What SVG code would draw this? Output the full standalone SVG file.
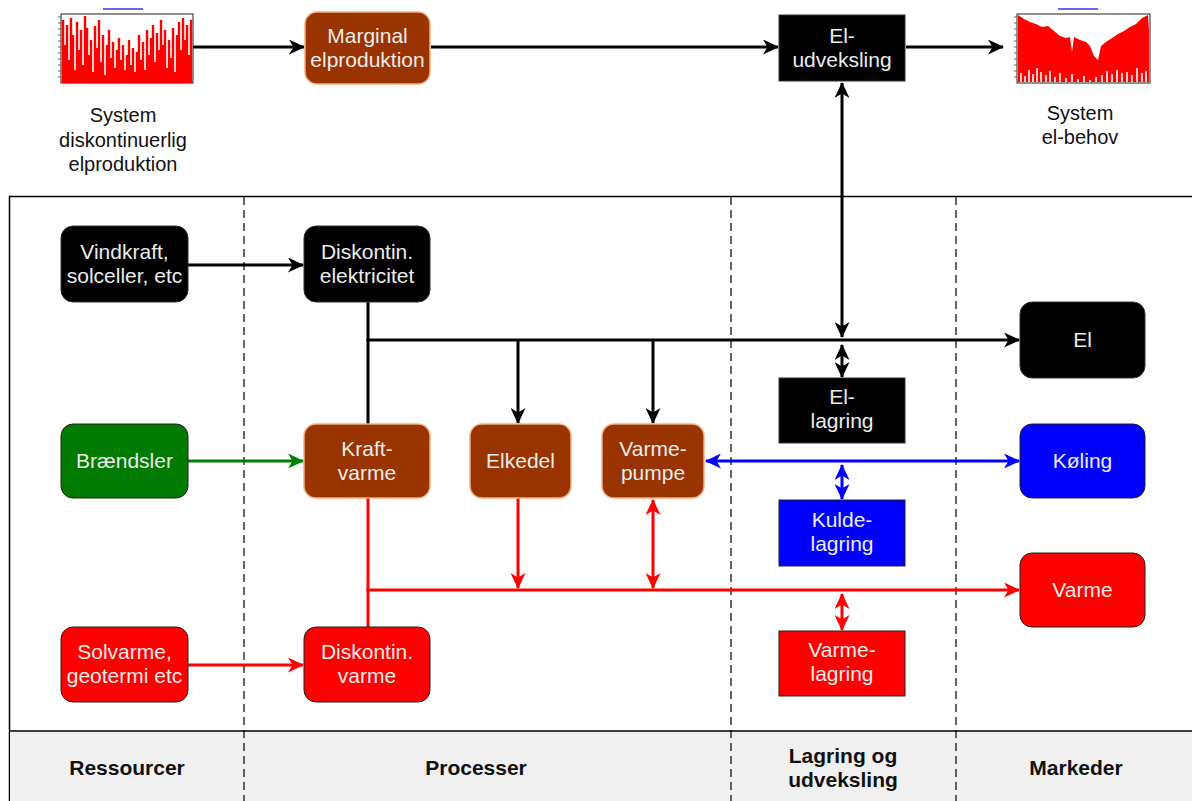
<svg xmlns="http://www.w3.org/2000/svg" width="1192" height="801" viewBox="0 0 1192 801">
<defs>
<style>
.t{font-family:"Liberation Sans",Arial,sans-serif;font-size:21px;fill:#ececec;text-anchor:middle}
.lbl{font-family:"Liberation Sans",Arial,sans-serif;font-size:20px;fill:#111;text-anchor:middle}
.lane{font-family:"Liberation Sans",Arial,sans-serif;font-size:21px;font-weight:bold;fill:#111;text-anchor:middle}
.blk{fill:#000;stroke:#333;stroke-width:1}
.brn{fill:#993300;stroke:#f4b183;stroke-width:1.5}
.grn{fill:#007a00;stroke:#222;stroke-width:1}
.red{fill:#ff0000;stroke:#222;stroke-width:1}
.blu{fill:#0000ff;stroke:#222;stroke-width:1}
.dash{stroke:#000;stroke-width:1.2;stroke-dasharray:8 5;fill:none}
.c{fill:none;stroke-width:3}
.ck{stroke:#000}.cr{stroke:#ff0000}.cg{stroke:#008000}.cb{stroke:#0000ff}
</style>
<marker id="ak" markerUnits="userSpaceOnUse" markerWidth="17" markerHeight="15" viewBox="0 0 17 15" refX="15" refY="7.5" orient="auto-start-reverse"><path d="M0,0 L16,7.5 L0,15 L4.5,7.5 z" fill="#000"/></marker>
<marker id="ar" markerUnits="userSpaceOnUse" markerWidth="17" markerHeight="15" viewBox="0 0 17 15" refX="15" refY="7.5" orient="auto-start-reverse"><path d="M0,0 L16,7.5 L0,15 L4.5,7.5 z" fill="#ff0000"/></marker>
<marker id="ag" markerUnits="userSpaceOnUse" markerWidth="17" markerHeight="15" viewBox="0 0 17 15" refX="15" refY="7.5" orient="auto-start-reverse"><path d="M0,0 L16,7.5 L0,15 L4.5,7.5 z" fill="#008000"/></marker>
<marker id="ab" markerUnits="userSpaceOnUse" markerWidth="17" markerHeight="15" viewBox="0 0 17 15" refX="15" refY="7.5" orient="auto-start-reverse"><path d="M0,0 L16,7.5 L0,15 L4.5,7.5 z" fill="#0000ff"/></marker>
</defs>
<rect width="1192" height="801" fill="#fff"/>

<g id="frame">
<rect x="9.5" y="196.5" width="1200" height="620" fill="none" stroke="#000" stroke-width="1.5"/>
<rect x="10" y="731" width="1190" height="75" fill="#f0f0f0"/>
<line x1="9.5" y1="731" x2="1192" y2="731" stroke="#000" stroke-width="1.5"/>
<line class="dash" x1="244" y1="197" x2="244" y2="801"/>
<line class="dash" x1="731" y1="197" x2="731" y2="801"/>
<line class="dash" x1="956" y1="197" x2="956" y2="801"/>
<text class="lane" x="127" y="775">Ressourcer</text>
<text class="lane" x="476" y="775">Processer</text>
<text class="lane" x="843" y="763">Lagring og</text>
<text class="lane" x="843" y="787">udveksling</text>
<text class="lane" x="1076" y="775">Markeder</text>
</g>

<g id="connectors">
<line class="c ck" x1="193" y1="47" x2="304" y2="47" marker-end="url(#ak)"/>
<line class="c ck" x1="431" y1="47" x2="778" y2="47" marker-end="url(#ak)"/>
<line class="c ck" x1="906" y1="47" x2="1003" y2="47" marker-end="url(#ak)"/>
<line class="c ck" x1="842" y1="83" x2="842" y2="337" marker-start="url(#ak)" marker-end="url(#ak)"/>
<line class="c ck" x1="188" y1="265" x2="303" y2="265" marker-end="url(#ak)"/>
<polyline class="c ck" points="368,302 368,424"/>
<line class="c ck" x1="366.5" y1="340" x2="1019" y2="340" marker-end="url(#ak)"/>
<line class="c ck" x1="518" y1="340" x2="518" y2="423" marker-end="url(#ak)"/>
<line class="c ck" x1="653" y1="340" x2="653" y2="423" marker-start="none" marker-end="url(#ak)"/>
<line class="c ck" x1="842" y1="345" x2="842" y2="377" marker-start="url(#ak)" marker-end="url(#ak)"/>
<line class="c cg" x1="188" y1="461" x2="303" y2="461" marker-end="url(#ag)"/>
<line class="c cb" x1="706" y1="461" x2="1019" y2="461" marker-start="url(#ab)" marker-end="url(#ab)"/>
<line class="c cb" x1="842" y1="465" x2="842" y2="499" marker-start="url(#ab)" marker-end="url(#ab)"/>
<polyline class="c cr" points="368,498 368,627"/>
<line class="c cr" x1="366.5" y1="590" x2="1019" y2="590" marker-end="url(#ar)"/>
<line class="c cr" x1="518" y1="498" x2="518" y2="588" marker-end="url(#ar)"/>
<line class="c cr" x1="653" y1="500" x2="653" y2="588" marker-start="url(#ar)" marker-end="url(#ar)"/>
<line class="c cr" x1="842" y1="594" x2="842" y2="630" marker-start="url(#ar)" marker-end="url(#ar)"/>
<line class="c cr" x1="188" y1="665" x2="303" y2="665" marker-end="url(#ar)"/>
</g>

<g id="chart-discontinuous">
<rect x="61" y="14" width="132" height="69" fill="#fff" stroke="#222" stroke-width="1"/>
<rect x="103" y="8" width="40" height="2" fill="#6666ff"/>
<path d="M58,17h3M58,23h3M58,29h3M58,35h3M58,41h3M58,47h3M58,53h3M58,59h3M58,65h3M58,71h3M58,77h3" stroke="#666" stroke-width="1"/>
<path d="M63,83V20M65,83V45M67,83V25M69,83V60M71,83V18M73,83V35M75,83V70M77,83V22M79,83V50M81,83V30M83,83V65M85,83V16M87,83V28M89,83V55M91,83V40M93,83V72M95,83V26M97,83V48M99,83V20M101,83V62M103,83V35M105,83V75M107,83V45M109,83V30M111,83V58M113,83V42M115,83V68M117,83V50M119,83V38M121,83V60M123,83V45M125,83V70M127,83V55M129,83V40M131,83V65M133,83V48M135,83V72M137,83V52M139,83V35M141,83V60M143,83V42M145,83V70M147,83V30M149,83V55M151,83V38M153,83V25M155,83V62M157,83V33M159,83V50M161,83V20M163,83V45M165,83V30M167,83V68M169,83V40M171,83V58M173,83V28M175,83V72M177,83V35M179,83V22M181,83V50M183,83V18M185,83V40M187,83V25M189,83V55M191,83V20" stroke="#ff0000" stroke-width="2.4"/>
<text class="lbl" x="123" y="122">System</text>
<text class="lbl" x="123" y="147">diskontinuerlig</text>
<text class="lbl" x="123" y="171">elproduktion</text>
</g>

<g id="chart-demand">
<rect x="1017" y="14" width="133" height="69" fill="#fff" stroke="#222" stroke-width="1"/>
<rect x="1058" y="8" width="40" height="2" fill="#6666ff"/>
<path d="M1014,17h3M1014,23h3M1014,29h3M1014,35h3M1014,41h3M1014,47h3M1014,53h3M1014,59h3M1014,65h3M1014,71h3M1014,77h3" stroke="#666" stroke-width="1"/>
<polygon points="1018,15 1024,19 1030,22 1036,24 1042,27 1048,26 1054,31 1060,36 1066,38 1070,37 1072,52 1074,37 1080,40 1086,42 1090,46 1094,56 1098,60 1101,46 1106,42 1112,38 1118,34 1124,31 1130,27 1136,24 1142,18 1148,15 1149,30 1149,82 1018,82" fill="#ff0000"/>
<path d="M1021,82V73M1025,82V76M1029,82V70M1033,82V74M1037,82V68M1041,82V72M1046,82V75M1050,82V71M1055,82V77M1060,82V73M1066,82V78M1072,82V74M1078,82V79M1084,82V76M1090,82V80M1096,82V77M1102,82V75M1107,82V71M1112,82V74M1117,82V70M1122,82V73M1127,82V72M1132,82V75M1137,82V68M1142,82V73M1146,82V71" stroke="#fff" stroke-width="1.6"/>
<text class="lbl" x="1080" y="120">System</text>
<text class="lbl" x="1080" y="144">el-behov</text>
</g>

<g id="marginal-elproduktion">
<rect class="brn" x="305" y="12" width="125" height="72" rx="12"/>
<text class="t" x="367.5" y="43">Marginal</text>
<text class="t" x="367.5" y="67">elproduktion</text>
</g>

<g id="el-udveksling">
<rect class="blk" x="779" y="15" width="126" height="66"/>
<text class="t" x="842" y="43">El-</text>
<text class="t" x="842" y="67">udveksling</text>
</g>

<g id="vindkraft">
<rect class="blk" x="61" y="226" width="127" height="76" rx="12"/>
<text class="t" x="124.5" y="259">Vindkraft,</text>
<text class="t" x="124.5" y="283">solceller, etc</text>
</g>

<g id="diskontin-el">
<rect class="blk" x="304" y="226" width="126" height="76" rx="12"/>
<text class="t" x="367" y="259">Diskontin.</text>
<text class="t" x="367" y="283">elektricitet</text>
</g>

<g id="el">
<rect class="blk" x="1020" y="302" width="125" height="76" rx="12"/>
<text class="t" x="1082.5" y="347">El</text>
</g>

<g id="el-lagring">
<rect class="blk" x="779" y="378" width="126" height="65"/>
<text class="t" x="842" y="404">El-</text>
<text class="t" x="842" y="428">lagring</text>
</g>

<g id="braendsler">
<rect class="grn" x="61" y="424" width="127" height="74" rx="12"/>
<text class="t" x="124.5" y="468">Brændsler</text>
</g>

<g id="kraftvarme">
<rect class="brn" x="304" y="424" width="126" height="74" rx="12"/>
<text class="t" x="367" y="456">Kraft-</text>
<text class="t" x="367" y="480">varme</text>
</g>

<g id="elkedel">
<rect class="brn" x="470" y="424" width="101" height="74" rx="12"/>
<text class="t" x="520.5" y="468">Elkedel</text>
</g>

<g id="varmepumpe">
<rect class="brn" x="602" y="424" width="102" height="74" rx="12"/>
<text class="t" x="653" y="456">Varme-</text>
<text class="t" x="653" y="480">pumpe</text>
</g>

<g id="koeling">
<rect class="blu" x="1020" y="424" width="125" height="74" rx="12"/>
<text class="t" x="1082.5" y="468">Køling</text>
</g>

<g id="kulde-lagring">
<rect class="blu" x="779" y="500" width="126" height="66"/>
<text class="t" x="842" y="527">Kulde-</text>
<text class="t" x="842" y="551">lagring</text>
</g>

<g id="varme">
<rect class="red" x="1020" y="553" width="125" height="74" rx="12"/>
<text class="t" x="1082.5" y="597">Varme</text>
</g>

<g id="varme-lagring">
<rect class="red" x="779" y="631" width="126" height="65"/>
<text class="t" x="842" y="657">Varme-</text>
<text class="t" x="842" y="681">lagring</text>
</g>

<g id="solvarme">
<rect class="red" x="61" y="627" width="127" height="75" rx="12"/>
<text class="t" x="124.5" y="659">Solvarme,</text>
<text class="t" x="124.5" y="683">geotermi etc</text>
</g>

<g id="diskontin-varme">
<rect class="red" x="304" y="627" width="126" height="75" rx="12"/>
<text class="t" x="367" y="659">Diskontin.</text>
<text class="t" x="367" y="683">varme</text>
</g>
</svg>
